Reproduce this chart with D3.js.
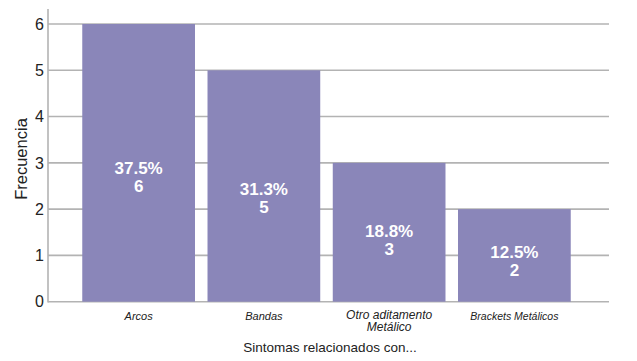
<!DOCTYPE html>
<html>
<head>
<meta charset="utf-8">
<script src="https://cdn.jsdelivr.net/npm/d3@7"></script>
<style>
  body { margin: 0; background: #fff; }
  text { font-family: "Liberation Sans", Arial, sans-serif; }
</style>
</head>
<body>
<script>
const categories = ['Arcos', 'Bandas', 'Otro aditamento Metálico', 'Brackets Metálicos'];
const labelLines = [['Arcos'], ['Bandas'], ['Otro aditamento', 'Metálico'], ['Brackets Metálicos']];
const counts = [6, 5, 3, 2];
const percents = ['37.5%', '31.3%', '18.8%', '12.5%'];
const yTicks = [0, 1, 2, 3, 4, 5, 6];

const width = 637;
const height = 361;
const svg = d3.select('body').append('svg').attr('width', width).attr('height', height);

const x = d3.scaleBand().domain(categories).range([76, 577]).paddingInner(0.1).paddingOuter(0.05);
const y = d3.scaleLinear().domain([0, 6]).range([301.7, 24]);

// gridlines
svg.append('g').selectAll('line').data(yTicks).enter().append('line')
  .attr('x1', 48).attr('x2', 609)
  .attr('y1', d => y(d)).attr('y2', d => y(d))
  .attr('stroke', '#b3b3b3').attr('stroke-width', 1.6);

// y axis line
svg.append('line').attr('x1', 48).attr('x2', 48).attr('y1', 9).attr('y2', y(0) + 0.8)
  .attr('stroke', '#b3b3b3').attr('stroke-width', 1.6);

// y tick labels
svg.append('g').selectAll('text').data(yTicks).enter().append('text')
  .attr('x', 44).attr('y', d => y(d)).attr('dy', '0.36em')
  .attr('text-anchor', 'end').attr('font-size', 16).attr('fill', '#222')
  .text(d => d);

// bars
svg.append('g').selectAll('rect').data(counts).enter().append('rect')
  .attr('x', (d, i) => x(categories[i]))
  .attr('width', x.bandwidth())
  .attr('y', d => y(d))
  .attr('height', d => y(0) - y(d))
  .attr('fill', '#8a86b9');

// bar labels
const lbl = svg.append('g').selectAll('text').data(counts).enter().append('text')
  .attr('text-anchor', 'middle').attr('fill', '#fff')
  .attr('font-size', 17).attr('font-weight', 'bold')
  .attr('transform', (d, i) => `translate(${x(categories[i]) + x.bandwidth() / 2},${y(d * 0.45)})`);
lbl.append('tspan').attr('x', 0).attr('y', -2.5).text((d, i) => percents[i]);
lbl.append('tspan').attr('x', 0).attr('y', 15.5).text(d => d);

// category labels
const cat = svg.append('g').selectAll('text').data(labelLines).enter().append('text')
  .attr('text-anchor', 'middle').attr('font-style', 'italic').attr('fill', '#222')
  .attr('font-size', d => d.length > 1 ? 12 : (d[0].length > 15 ? 10.5 : 11))
  .attr('transform', (d, i) => `translate(${x(categories[i]) + x.bandwidth() / 2},${d.length > 1 ? 318.5 : 320})`);
cat.selectAll('tspan').data(d => d).enter().append('tspan')
  .attr('x', 0).attr('y', (d, i) => i * 12.5).text(d => d);

// axis titles
svg.append('text').attr('x', 330).attr('y', 352).attr('text-anchor', 'middle')
  .attr('font-size', 13.5).attr('fill', '#222').text('Sintomas relacionados con...');
svg.append('text').attr('transform', 'translate(27,159) rotate(-90)').attr('text-anchor', 'middle')
  .attr('font-size', 16.5).attr('fill', '#222').text('Frecuencia');
</script>
</body>
</html>
